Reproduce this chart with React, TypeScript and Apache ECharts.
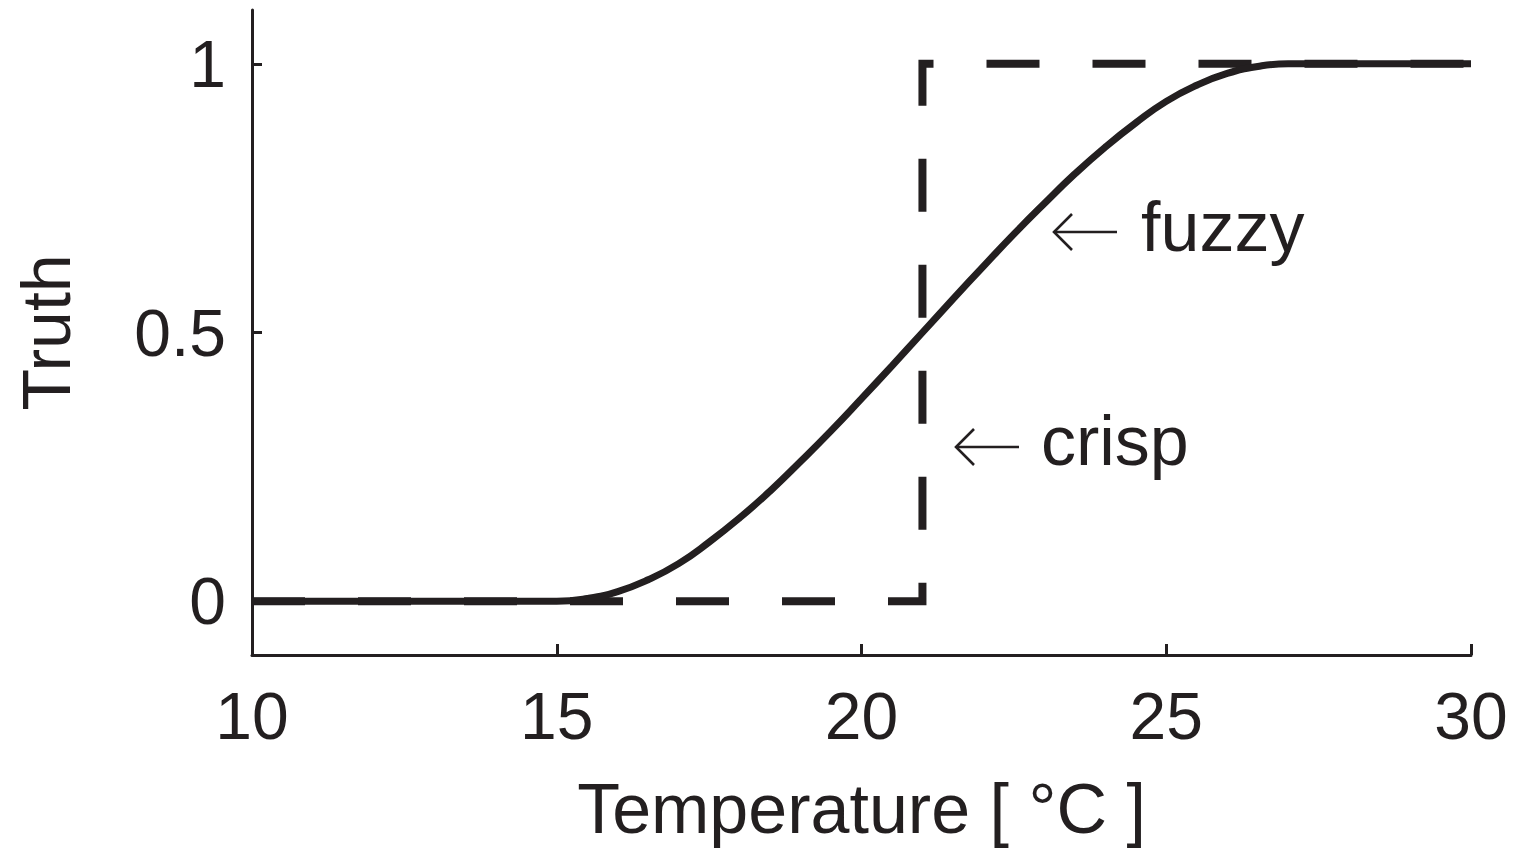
import React, { useEffect, useRef } from "react";
import * as echarts from "echarts";

// Temperature (°C) sample points and the fuzzy membership read along them
const fuzzyTemps = [10, 15, 15.5, 16, 16.5, 17, 17.5, 18, 18.5, 19, 19.5, 20, 20.5, 21, 21.5, 22, 22.5, 23, 23.5, 24, 24.5, 25, 25.5, 26, 26.5, 27, 30];
const fuzzyTruth = [0, 0, 0.005, 0.018, 0.04, 0.07, 0.11, 0.155, 0.205, 0.26, 0.317, 0.377, 0.438, 0.5, 0.562, 0.623, 0.683, 0.74, 0.795, 0.845, 0.89, 0.93, 0.96, 0.982, 0.995, 1, 1];

// Crisp (step) membership: false below 21 °C, true above
const crispTemps = [10, 21, 21, 30];
const crispTruth = [0, 0, 1, 1];

const xTicks = [10, 15, 20, 25, 30];
const yTicks = [0, 0.5, 1];

const INK = "#231f20";
const FONT = '"Liberation Sans", Arial, Helvetica, sans-serif';

// Thin left-pointing arrow drawn as a shaft plus an open head
function leftArrow(tipX: number, y: number, len: number) {
  const line = { stroke: INK, lineWidth: 2.6, fill: "none" };
  return [
    { type: "line", shape: { x1: tipX, y1: y, x2: tipX + len, y2: y }, style: line },
    {
      type: "polyline",
      shape: { points: [[tipX + 18, y - 18], [tipX, y], [tipX + 18, y + 18]] },
      style: line,
    },
  ];
}

export default function App() {
  const ref = useRef<HTMLDivElement>(null);

  useEffect(() => {
    if (!ref.current) return;
    const chart = echarts.init(ref.current, undefined, { renderer: "svg" });
    const zip = (xs: number[], ys: number[]) => xs.map((x, i) => [x, ys[i]]);

    chart.setOption({
      animation: false,
      backgroundColor: "#ffffff",
      textStyle: { fontFamily: FONT, color: INK },
      grid: { left: 252, right: 46, top: 10, bottom: 198, outerBoundsMode: "none" },
      xAxis: {
        type: "value",
        min: xTicks[0],
        max: xTicks[xTicks.length - 1],
        interval: 5,
        name: "Temperature [ °C ]",
        nameLocation: "middle",
        nameGap: 119,
        nameTextStyle: { fontSize: 70, color: INK, fontFamily: FONT },
        axisLine: { onZero: false, lineStyle: { color: INK, width: 3 } },
        axisTick: { inside: true, length: 11, lineStyle: { color: INK, width: 3 } },
        axisLabel: { fontSize: 66, color: INK, margin: 28, fontFamily: FONT },
        splitLine: { show: false },
      },
      yAxis: {
        type: "value",
        min: -0.1,
        max: 1.1,
        name: "Truth",
        nameLocation: "middle",
        nameGap: 172,
        nameRotate: 90,
        nameTextStyle: { fontSize: 68, color: INK, fontFamily: FONT },
        axisLine: { show: true, lineStyle: { color: INK, width: 3 } },
        axisTick: { show: true, inside: true, length: 10, customValues: yTicks, lineStyle: { color: INK, width: 3 } },
        axisLabel: {
          fontSize: 66,
          color: INK,
          margin: 26,
          fontFamily: FONT,
          customValues: yTicks,
          formatter: (v: number) => String(v),
        },
        splitLine: { show: false },
      },
      series: [
        {
          type: "line",
          data: zip(crispTemps, crispTruth),
          showSymbol: false,
          symbol: "none",
          lineStyle: { color: INK, width: 8, type: [53, 53], cap: "butt", join: "miter" },
          z: 2,
        },
        {
          type: "line",
          data: zip(fuzzyTemps, fuzzyTruth),
          showSymbol: false,
          symbol: "none",
          smooth: 0.5,
          lineStyle: { color: INK, width: 7 },
          z: 3,
        },
      ],
      graphic: [
        ...leftArrow(1054, 232, 63),
        {
          type: "text",
          x: 1141,
          y: 227,
          style: { text: "fuzzy", font: `70px ${FONT}`, fill: INK, verticalAlign: "middle", align: "left" },
        },
        ...leftArrow(956, 447, 63),
        {
          type: "text",
          x: 1041,
          y: 441,
          style: { text: "crisp", font: `70px ${FONT}`, fill: INK, verticalAlign: "middle", align: "left" },
        },
      ],
    });

    return () => chart.dispose();
  }, []);

  return (
    <div
      ref={ref}
      style={{ position: "fixed", left: 0, top: 0, width: 1517, height: 853, background: "#ffffff" }}
    />
  );
}
